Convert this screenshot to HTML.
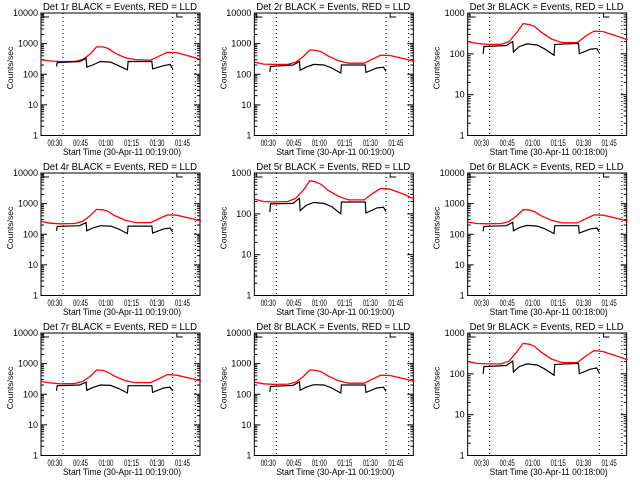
<!DOCTYPE html>
<html><head><meta charset="utf-8"><style>
html,body{margin:0;padding:0;background:#fff;width:640px;height:480px;overflow:hidden}
svg text{font-family:"Liberation Sans",sans-serif;fill:#000}
</style></head><body>
<svg id="chart" width="640" height="480" viewBox="0 0 640 480" xmlns="http://www.w3.org/2000/svg">
<rect x="0" y="0" width="640" height="480" fill="#fff"/>
</svg>
<script>
// time samples in minutes since 00:18
const tRed = [3.8,9.1,15.1,23.5,28.1,32.6,36.4,40.2,43.2,47.0,53.1,59.2,68.3,73.6,78.1,83.5,91.8,97.9];
const tBlack = [12.9,13.3,26.5,30.3,30.7,34.1,38.7,44.7,49.3,54.6,55.0,69.0,69.4,75.9,79.7,81.2];
const detNames = ["1r","2r","3r","4r","5r","6r","7r","8r","9r"];
const yDecades = [4,4,3,4,3,4,4,4,3];
const startLabels = ["00:19:00","00:19:00","00:18:00","00:19:00","00:19:00","00:18:00","00:19:00","00:19:00","00:18:00"];
const redVals = [
 [300,270,260,260,300,450,780,780,700,500,350,300,290,400,520,510,380,300],
 [250,215,210,210,250,380,620,600,540,400,280,230,230,320,420,410,320,260],
 [200,180,170,170,200,330,550,520,470,340,230,190,190,280,360,350,270,220],
 [260,230,220,225,260,400,650,630,560,410,290,240,240,330,430,420,330,270],
 [230,200,195,200,240,380,650,600,520,380,270,220,220,320,420,400,300,230],
 [250,225,220,225,260,400,640,620,550,400,285,235,235,330,430,420,330,265],
 [260,235,220,225,260,380,620,600,520,390,280,240,240,330,440,420,330,270],
 [250,220,210,215,250,380,620,600,540,400,280,230,230,320,420,410,320,260],
 [200,180,175,175,205,340,560,530,470,340,230,190,190,280,370,350,270,220]
];
const blackVals = [
 [180,240,260,330,170,200,260,250,190,140,260,260,150,190,210,150],
 [120,180,200,260,135,170,210,200,160,110,200,200,115,160,170,125],
 [100,150,160,200,110,150,175,165,130,92,170,180,100,130,135,105],
 [130,180,190,240,130,160,190,185,150,105,185,185,110,150,160,120],
 [110,175,180,240,120,160,190,180,150,100,195,195,105,140,145,115],
 [125,180,190,245,130,165,195,185,150,105,190,190,110,150,160,120],
 [130,190,200,250,135,165,200,195,155,110,190,190,115,160,170,130],
 [120,180,195,255,135,170,205,200,160,110,200,200,115,160,170,125],
 [100,150,160,205,110,150,175,165,130,92,170,180,100,130,140,105]
];
const tickTimes = [12,27,42,57,72,87];
const tickLabels = ["00:30","00:45","01:00","01:15","01:30","01:45"];
const dottedTimes = [16.7,81.2,94.5];
const bracketTimes = [3.8,82.5];

const NS="http://www.w3.org/2000/svg";
const svg=document.getElementById('chart');
function mk(tag,attrs,parent){const e=document.createElementNS(NS,tag);for(const k in attrs)e.setAttribute(k,attrs[k]);parent.appendChild(e);return e;}
const L=41,R=200,T=13,B=135.5;

for(let p=0;p<9;p++){
  const col=p%3,row=Math.floor(p/3);
  const g=mk('g',{transform:`translate(${(col*213.33).toFixed(2)},${row*160})`},svg);
  
  
  const dec=yDecades[p];
  const xs=t=>55+(t-12)*1.7;
  const ys=v=>B-(Math.log10(v)/dec)*(B-T);
  const title=mk('text',{x:120,y:10,'font-size':'10.5','text-anchor':'middle',textLength:154,lengthAdjust:'spacingAndGlyphs'},g);
  title.textContent=`Det ${detNames[p]} BLACK = Events, RED = LLD`;
  
  
  const fr=mk('rect',{x:L,y:T,width:R-L,height:B-T,fill:'none',stroke:'#000','stroke-width':1},g);
  
  
  for(let d=0;d<=dec;d++){
    const y=ys(Math.pow(10,d));
    mk('line',{x1:L,x2:L+6,y1:y,y2:y,stroke:'#000'},g);
    mk('line',{x1:R-6,x2:R,y1:y,y2:y,stroke:'#000'},g);
    const lab=mk('text',{x:38,y:y+3,'font-size':'9','text-anchor':'end'},g);
    lab.textContent=String(Math.pow(10,d));
    
    
    if(d<dec){for(let m=2;m<10;m++){const ym=ys(m*Math.pow(10,d));
      mk('line',{x1:L,x2:L+3,y1:ym,y2:ym,stroke:'#000'},g);
      mk('line',{x1:R-3,x2:R,y1:ym,y2:ym,stroke:'#000'},g);}}
  }
  tickTimes.forEach((t,i)=>{
    const lab=mk('text',{x:xs(t),y:146,'font-size':'9.5','text-anchor':'middle',textLength:15,lengthAdjust:'spacingAndGlyphs'},g);
    lab.textContent=tickLabels[i];
    
    
  });
  const xl=mk('text',{x:122,y:155,'font-size':'9.5','text-anchor':'middle',textLength:118,lengthAdjust:'spacingAndGlyphs'},g);
  xl.textContent=`Start Time (30-Apr-11 ${startLabels[p]})`;
  
  
  const yl=mk('text',{x:0,y:0,'font-size':'8.5','text-anchor':'middle',transform:'translate(13,68) rotate(-90)'},g);
  yl.textContent='Counts/sec';
  
  
  dottedTimes.forEach(t=>{
    const ln=mk('line',{x1:xs(t),x2:xs(t),y1:T,y2:B,stroke:'#000','stroke-dasharray':'1,3'},g);
    
    
  });
  bracketTimes.forEach(t=>{
    const x=xs(t)+2;
    const br=mk('path',{d:`M${x} ${T} V${T+4} H${x+6}`,fill:'none',stroke:'#000'},g);
    
    
  });
  const rp=mk('polyline',{points:tRed.map((t,i)=>xs(t).toFixed(1)+','+ys(redVals[p][i]).toFixed(1)).join(' '),fill:'none',stroke:'#ff0000','stroke-width':1.3},g);
  
  
  const bp=mk('polyline',{points:tBlack.map((t,i)=>xs(t).toFixed(1)+','+ys(blackVals[p][i]).toFixed(1)).join(' '),fill:'none',stroke:'#000','stroke-width':1.2},g);
  
  
}
</script>
</body></html>
